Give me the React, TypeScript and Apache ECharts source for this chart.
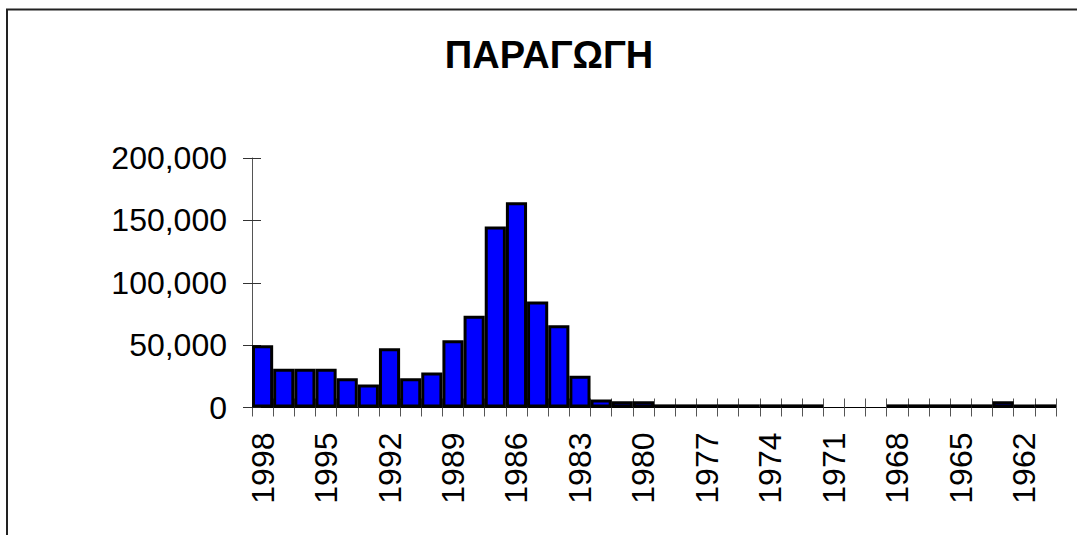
import React, { useEffect, useRef } from "react";
import * as echarts from "echarts";

const titleText = "ΠΑΡΑΓΩΓΗ";

const years: string[] = [
  "1998", "1997", "1996", "1995", "1994", "1993", "1992", "1991", "1990", "1989",
  "1988", "1987", "1986", "1985", "1984", "1983", "1982", "1981", "1980", "1979",
  "1978", "1977", "1976", "1975", "1974", "1973", "1972", "1971", "1970", "1969",
  "1968", "1967", "1966", "1965", "1964", "1963", "1962", "1961",
];

const production: (number | null)[] = [
  50000, 31000, 31000, 31000, 23500, 18500, 47500, 23500, 28000, 54000,
  73500, 145000, 164500, 85000, 66000, 25500, 6500, 5000, 5000, 2500,
  2500, 2500, 2500, 2500, 2500, 2500, 2500, null, null, null,
  2500, 2500, 2500, 2500, 2500, 5000, 2500, 2500,
];

const yMin = 0;
const yMax = 200000;
const yStep = 50000;

export default function App() {
  const ref = useRef<HTMLDivElement>(null);

  useEffect(() => {
    if (!ref.current) return;
    const chart = echarts.init(ref.current, null, { renderer: "svg" });
    const font = "'Liberation Sans', Arial, sans-serif";
    chart.setOption({
      animation: false,
      backgroundColor: "#ffffff",
      grid: { left: 252, right: 21, top: 158, bottom: 127.5, containLabel: false },
      graphic: [
        {
          type: "rect",
          shape: { x: 7, y: 9.5, width: 1200, height: 1000 },
          style: { fill: "none", stroke: "#222", lineWidth: 2 },
          silent: true,
        },
        {
          type: "text",
          x: 549,
          y: 55,
          style: {
            text: titleText,
            fontFamily: font,
            fontSize: 38,
            fontWeight: "bold",
            fill: "#000",
            align: "center",
            verticalAlign: "middle",
          },
        },
      ],
      xAxis: [
        {
          type: "category",
          data: years,
          position: "bottom",
          boundaryGap: true,
          axisLine: { show: true, lineStyle: { color: "#000", width: 1 } },
          axisTick: { show: true, interval: 0, length: 9, lineStyle: { color: "#555" } },
          axisLabel: {
            interval: 2,
            rotate: 90,
            fontSize: 32,
            fontFamily: font,
            color: "#000",
            margin: 25,
          },
          splitLine: { show: false },
        },
        {
          type: "category",
          data: years,
          position: "bottom",
          boundaryGap: true,
          axisLine: { show: false },
          axisTick: { show: true, inside: true, interval: 0, length: 9, lineStyle: { color: "#555" } },
          axisLabel: { show: false },
          splitLine: { show: false },
        },
      ],
      yAxis: [
        {
          type: "value",
          min: yMin,
          max: yMax,
          interval: yStep,
          axisLine: { show: true, lineStyle: { color: "#555", width: 1 } },
          axisTick: { show: true, length: 9, lineStyle: { color: "#333" } },
          axisLabel: {
            fontSize: 32,
            fontFamily: font,
            color: "#000",
            margin: 25,
            formatter: (v: number) => v.toLocaleString("en-US"),
          },
          splitLine: { show: false },
        },
        {
          type: "value",
          position: "left",
          min: yMin,
          max: yMax,
          interval: yStep,
          axisLine: { show: false },
          axisTick: { show: true, inside: true, length: 9, lineStyle: { color: "#333" } },
          axisLabel: { show: false },
          splitLine: { show: false },
        },
      ],
      series: [
        {
          type: "bar",
          data: production,
          barCategoryGap: "0%",
          itemStyle: { color: "#0000ff", borderColor: "#000", borderWidth: 3 },
          z: 3,
        },
      ],
    });
    return () => chart.dispose();
  }, []);

  return (
    <div
      ref={ref}
      style={{ position: "fixed", left: 0, top: 0, width: 1077, height: 535 }}
    />
  );
}
